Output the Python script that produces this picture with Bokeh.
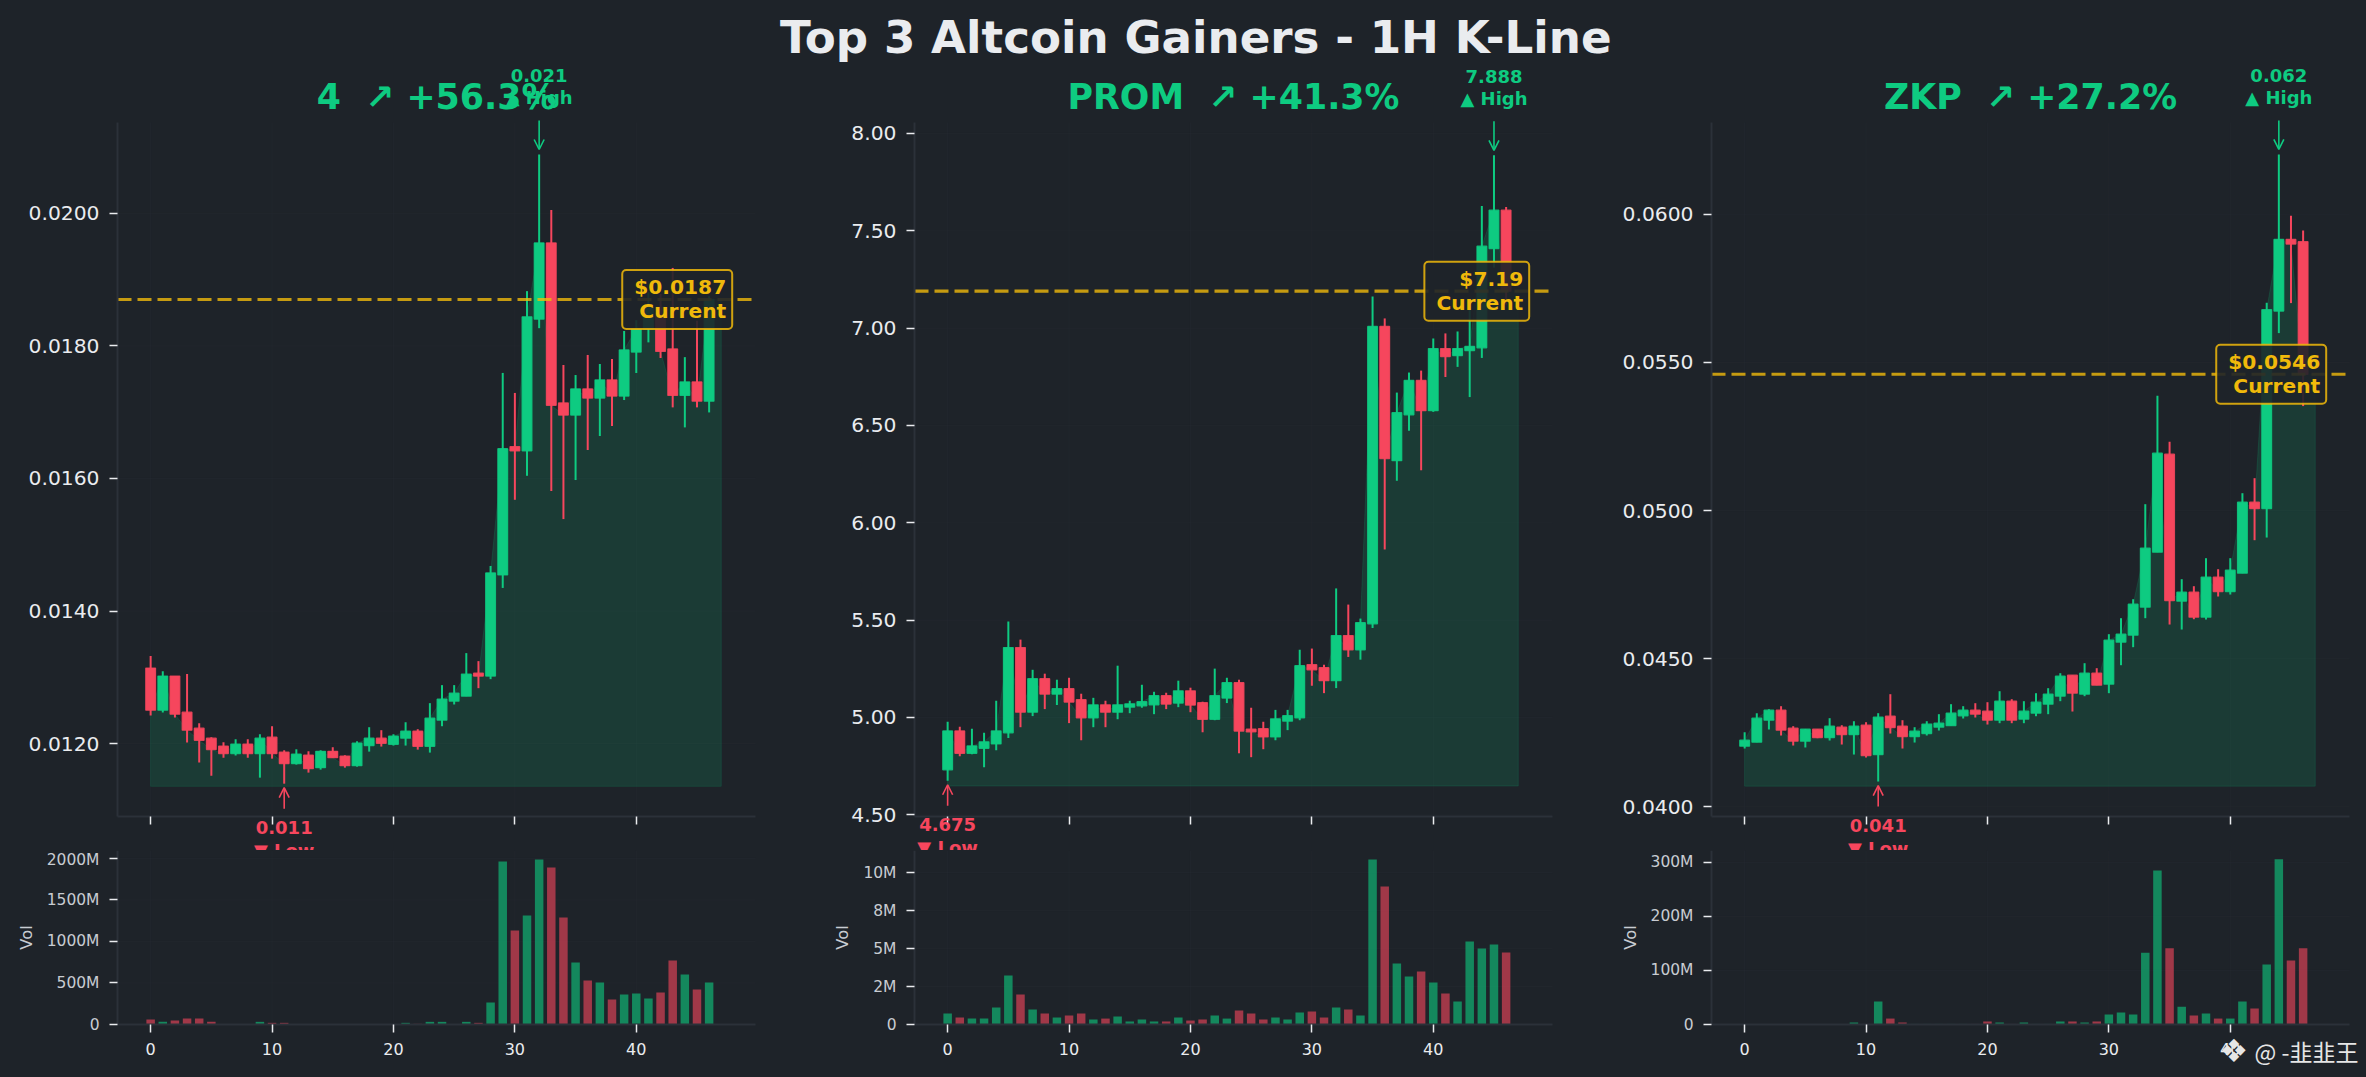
from bokeh.embed import file_html
from bokeh.resources import INLINE
from bokeh.layouts import row, column
from bokeh.models import (Range1d, Label, Arrow, OpenHead, FixedTicker, CustomJS)
from bokeh.plotting import figure

BG = "#1e2329"
GREEN = "#0ecb81"
RED = "#f6465d"
GOLD = "#f0b90b"
SPINE = "#2b3139"
TEXT = "#eaecef"
FONT = "DejaVu Sans"

main_title = "Top 3 Altcoin Gainers - 1H K-Line"
sub_titles = ["4 \u00a0↗ +56.3%", "PROM \u00a0↗ +41.3%", "ZKP \u00a0↗ +27.2%"]
high_labels = ["0.021", "7.888", "0.062"]
low_labels = ["0.011", "4.675", "0.041"]
current_labels = ["$0.0187", "$7.19", "$0.0546"]
current_values = [0.0187, 7.19, 0.0546]
area_floors = [0.011355, 4.648, 0.040693]

y_limits = [(0.0109, 0.02137), (4.4913, 8.0565), (0.03967, 0.0631)]
y_ticks = [[0.012, 0.014, 0.016, 0.018, 0.020],
           [4.5, 5.0, 5.5, 6.0, 6.5, 7.0, 7.5, 8.0],
           [0.040, 0.045, 0.050, 0.055, 0.060]]
y_tick_formats = ["{:.4f}", "{:.2f}", "{:.4f}"]
x_ticks = [0, 10, 20, 30, 40]

vol_limits = [2096, 11.45, 322]
vol_ticks = [[0, 500, 1000, 1500, 2000], [0, 2.5, 5, 7.5, 10], [0, 100, 200, 300]]
vol_tick_labels = [["0", "500M", "1000M", "1500M", "2000M"],
                   ["0", "2M", "5M", "8M", "10M"],
                   ["0", "100M", "200M", "300M"]]

open_4 = [.013139,.012504,.013018,.012474,.012232,.012081,.01196,.011849,.01199,.011849,.012096,.011869,.011698,.011824,.011637,.011884,.011809,.011667,.01197,.012081,.01199,.012081,.012186,.01196,.012353,.01264,.012715,.013063,.013018,.014544,.016479,.016418,.018403,.019552,.017138,.016957,.01735,.017214,.017485,.017244,.017908,.018256,.018581,.017953,.017253,.017455,.017166]
high_4 = [.01332,.013093,.013018,.013048,.012307,.012096,.01202,.012065,.012065,.012141,.012262,.011899,.011914,.011884,.011899,.011945,.011824,.012035,.012247,.012202,.012141,.012322,.012217,.01261,.012882,.012882,.013365,.013244,.01468,.017592,.01729,.018826,.020887,.02005,.017712,.01756,.017863,.017727,.017802,.018225,.018388,.018808,.018784,.019176,.01783,.01838,.01875]
low_4 = [.012423,.012469,.012393,.012015,.011713,.011516,.011788,.011819,.011788,.011486,.011773,.011395,.011683,.011562,.011607,.011788,.011637,.011652,.011879,.011955,.01197,.01197,.011909,.011864,.012262,.01259,.012715,.012836,.012972,.014348,.015678,.01604,.018267,.015809,.015387,.015976,.016429,.01664,.016791,.017183,.017591,.018053,.017817,.017072,.01677,.017072,.016996]
close_4 = [.012504,.013018,.012443,.012202,.01205,.011909,.011849,.01199,.011849,.012081,.011849,.011698,.011839,.011622,.011884,.011788,.011667,.012005,.012081,.012005,.012111,.012186,.01196,.012383,.01267,.012761,.013048,.013018,.014574,.016449,.016418,.018438,.019552,.017103,.016957,.01735,.017214,.017485,.017244,.017938,.018256,.018581,.017917,.017253,.017455,.017166,.0187]
vol_4 = [60,32,48,72,72,32,3,3,3,32,20,20,3,3,3,3,3,3,3,3,3,20,8,32,32,5,32,20,265,1964,1132,1313,1988,1892,1289,747,530,506,301,361,373,313,385,771,602,422,506]

open_prom = [4.731,4.931,4.816,4.842,4.864,4.921,5.359,5.027,5.199,5.12,5.148,5.091,4.998,5.065,5.027,5.053,5.06,5.065,5.112,5.074,5.137,5.076,4.991,5.1,5.179,4.94,4.942,4.9,4.981,4.998,5.271,5.256,5.189,5.421,5.348,5.481,7.009,6.319,6.555,6.731,6.576,6.895,6.859,6.885,6.899,7.409,7.606]
high_prom = [4.978,4.952,4.942,4.921,5.086,5.493,5.4,5.245,5.225,5.194,5.204,5.122,5.101,5.086,5.266,5.086,5.168,5.132,5.127,5.189,5.153,5.081,5.251,5.204,5.194,5.05,4.978,5.039,5.039,5.348,5.354,5.271,5.663,5.58,5.508,7.163,7.05,6.669,6.772,6.782,6.947,6.973,6.983,7.1,7.628,7.888,7.623]
low_prom = [4.675,4.801,4.811,4.744,4.832,4.894,4.95,5.007,5.043,5.064,4.971,4.883,4.95,4.95,4.991,5.022,5.05,5.017,5.043,5.053,5.027,4.924,4.986,5.074,4.816,4.796,4.837,4.883,4.935,4.986,5.163,5.125,5.151,5.311,5.297,5.46,5.863,6.216,6.473,6.27,6.57,6.749,6.801,6.646,6.847,7.311,7.12]
close_prom = [4.931,4.816,4.854,4.875,4.931,5.359,5.027,5.199,5.12,5.148,5.079,4.998,5.065,5.027,5.065,5.07,5.081,5.112,5.069,5.137,5.064,4.991,5.112,5.179,4.93,4.926,4.9,4.993,5.009,5.266,5.245,5.189,5.421,5.348,5.487,7.009,6.33,6.566,6.731,6.576,6.895,6.854,6.895,6.906,7.421,7.606,7.19]
vol_prom = [.72,.46,.39,.39,1.12,3.22,1.97,.99,.72,.46,.59,.72,.33,.39,.53,.2,.33,.2,.2,.46,.26,.33,.59,.39,.92,.72,.33,.46,.33,.79,.86,.46,1.12,.99,.59,10.86,9.08,4.01,3.16,3.49,2.76,2.04,1.51,5.46,5.0,5.26,4.74]

open_zkp = [.042044,.042178,.042921,.043259,.042651,.042212,.042617,.042336,.042685,.042437,.042752,.041762,.043056,.042719,.04237,.042471,.042685,.042741,.043068,.043259,.043225,.042921,.043563,.042955,.043158,.043462,.043732,.04444,.043799,.044508,.044137,.045555,.045791,.046736,.048593,.051902,.046939,.047243,.046399,.047749,.047265,.047884,.050281,.050068,.056733,.059153,.059074]
high_zkp = [.042516,.043158,.043293,.043394,.042719,.042617,.042617,.042989,.042752,.042887,.042854,.043158,.043799,.042921,.042685,.042887,.043124,.043462,.043394,.043495,.043529,.0439,.04363,.043563,.043833,.044002,.044508,.04444,.044846,.044677,.045825,.046365,.047006,.050214,.053875,.052322,.047682,.047445,.048391,.048019,.048391,.050585,.051092,.057014,.062022,.059952,.059456]
low_zkp = [.041965,.042178,.042606,.042404,.042066,.042,.042314,.042235,.0421,.041762,.041661,.040851,.042471,.041965,.042167,.042404,.042573,.042741,.042978,.043012,.042775,.04282,.04282,.04282,.043056,.043124,.043563,.043214,.043732,.044103,.043833,.044778,.045386,.046365,.048593,.046151,.045982,.046331,.04632,.047097,.047164,.047884,.048998,.049088,.05599,.057003,.053526]
close_zkp = [.042246,.042989,.043259,.042584,.042212,.042617,.042336,.042719,.042437,.042719,.041728,.043023,.042674,.04237,.04255,.042786,.04282,.043158,.043259,.043124,.042921,.043563,.042921,.043225,.043529,.043799,.044407,.043833,.044508,.044103,.045622,.045825,.046838,.048728,.051936,.046961,.047243,.046399,.047749,.047265,.047986,.050281,.050068,.056778,.059153,.058995,.0546]
vol_zkp = [.5,.5,.5,.5,.5,.5,.5,.5,.5,3.7,1,42.6,11,3.7,1,1,1,1,1,1,5.6,3.7,1,3.7,1,1,5.6,5.6,3.7,5.6,18.5,22,18.5,133,285,141,33,16.7,20.4,11,11,42.6,29.6,111,305.6,118.5,141]

series = [(open_4, high_4, low_4, close_4, vol_4),
          (open_prom, high_prom, low_prom, close_prom, vol_prom),
          (open_zkp, high_zkp, low_zkp, close_zkp, vol_zkp)]

X_MIN, X_MAX = -2.73, 49.82
FRAME_W, FRAME_H, VOL_H = 638, 694, 174
TOP, BOTTOM, VOL_BOTTOM = 122, 34, 53
columns_geo = [(117, 20), (139, 63), (96, 17)]   # left, right margin of each column
PX_X = (X_MAX - X_MIN) / FRAME_W


def make_panel(width, height, xr, yr, yl, x_font, y_font, y_color, yticks, overrides):
    """The plot frame fills the whole canvas; the axes sit at fixed places inside it,
    so texts and arrows around the inner area are not clipped away."""
    fig = figure(width=width, height=height, x_range=Range1d(*xr), y_range=Range1d(*yr),
                 min_border_left=0, min_border_right=0, min_border_top=0, min_border_bottom=0,
                 background_fill_color=None, border_fill_color=None, outline_line_color=None,
                 output_backend="svg", toolbar_location=None, tools="", styles={"background-color": BG})
    fig.grid.visible = False
    for ax in (fig.xaxis[0], fig.yaxis[0]):
        ax.axis_line_color = SPINE
        ax.axis_line_width = 2
        ax.major_tick_line_color = TEXT
        ax.major_tick_line_width = 1.5
        ax.major_tick_out = 8
        ax.major_tick_in = 0
        ax.minor_tick_line_color = None
        ax.major_label_text_font = FONT
        ax.major_label_standoff = 10
    xa, ya = fig.xaxis[0], fig.yaxis[0]
    xa.fixed_location = yl[0]
    xa.bounds = (X_MIN, X_MAX)
    xa.ticker = FixedTicker(ticks=x_ticks)
    ya.fixed_location = X_MIN
    ya.bounds = yl
    ya.ticker = FixedTicker(ticks=yticks)
    ya.major_label_overrides = overrides
    ya.major_label_text_font_size = y_font
    ya.major_label_text_color = y_color
    if x_font:
        xa.major_label_text_font_size = x_font
        xa.major_label_text_color = TEXT
    else:
        xa.major_label_text_font_size = "0px"
        xa.major_label_text_color = None
    fig.segment(x_ticks, yl[0], x_ticks, yl[1], line_color=SPINE, line_alpha=0.25, line_width=1, level="underlay")
    fig.segment(X_MIN, yticks, X_MAX, yticks, line_color=SPINE, line_alpha=0.25, line_width=1, level="underlay")
    return fig


plots = []
for k, (o, h, l, c, v) in enumerate(series):
    lb, rb = columns_geo[k]
    idx = list(range(len(c)))
    colors = [GREEN if c[i] >= o[i] else RED for i in idx]
    y0, y1 = y_limits[k]
    per_px = (y1 - y0) / FRAME_H
    xr = (X_MIN - lb * PX_X, X_MAX + rb * PX_X)

    p = make_panel(lb + FRAME_W + rb, TOP + FRAME_H + BOTTOM, xr,
                   (y0 - BOTTOM * per_px, y1 + TOP * per_px), (y0, y1), None, "20.3px", TEXT, y_ticks[k],
                   {t: y_tick_formats[k].format(t) for t in y_ticks[k]})

    area_x = idx + [len(c), len(c), 0]
    area_y = c + [c[-1], area_floors[k], area_floors[k]]
    p.patch(area_x, area_y, fill_color=GREEN, fill_alpha=0.15, line_color=GREEN, line_alpha=0.15, line_width=1)

    p.segment(idx, l, idx, h, line_color=colors, line_width=2)
    tops = [max(o[i], c[i]) for i in idx]
    bots = [min(o[i], c[i]) for i in idx]
    p.vbar(idx, 0.8, bots, tops, fill_color=colors, line_color=colors, line_width=1.3, line_alpha=0.85)

    p.line([X_MIN, X_MAX], [current_values[k], current_values[k]], line_color=GOLD, line_alpha=0.8,
           line_width=3.2, line_dash="14 6")

    ihi = h.index(max(h))
    ilo = l.index(min(l))
    p.add_layout(Arrow(end=OpenHead(size=10, line_color=GREEN, line_width=1.6),
                       x_start=ihi, y_start=h[ihi] + 34 * per_px, x_end=ihi, y_end=h[ihi] + 5 * per_px,
                       line_color=GREEN, line_width=1.6))
    p.add_layout(Arrow(end=OpenHead(size=10, line_color=RED, line_width=1.6),
                       x_start=ilo, y_start=l[ilo] - 25 * per_px, x_end=ilo, y_end=l[ilo] - 4 * per_px,
                       line_color=RED, line_width=1.6))
    for txt, yv, off, col in [(high_labels[k], h[ihi], 79, GREEN), ("▲ High", h[ihi], 57, GREEN),
                              (low_labels[k], l[ilo], -44, RED), ("▼ Low", l[ilo], -67, RED)]:
        p.add_layout(Label(x=ihi if col == GREEN else ilo, y=yv, y_offset=off, text=txt,
                           text_align="center", text_baseline="middle", text_color=col,
                           text_font=FONT, text_font_style="bold", text_font_size="18px"))

    p.add_layout(Label(x=(X_MIN + X_MAX) / 2, y=y1 + 26 * per_px, text=sub_titles[k],
                       text_align="center", text_baseline="alphabetic", text_color=GREEN,
                       text_font=FONT, text_font_style="bold", text_font_size="34.8px"))

    p.add_layout(Label(x=47.9, y=current_values[k], text=current_labels[k] + "\nCurrent",
                       text_align="right", text_baseline="middle", text_color=GOLD,
                       text_font=FONT, text_font_style="bold", text_font_size="20.2px", text_line_height=1.0,
                       background_fill_color=BG, background_fill_alpha=0.9,
                       border_line_color=GOLD, border_line_alpha=0.85, border_line_width=2,
                       padding=(12, 6, 5, 6), border_radius=4))

    if k == 1:
        p.add_layout(Label(x=20.44, y=8.494, text=main_title, text_align="center", text_baseline="middle",
                           text_color=TEXT, text_font=FONT, text_font_style="bold", text_font_size="45.2px"))

    vmax = vol_limits[k]
    vol_px = vmax / VOL_H
    q = make_panel(lb + FRAME_W + rb, VOL_H + VOL_BOTTOM, xr, (-VOL_BOTTOM * vol_px, vmax), (0, vmax),
                   "16px", "15.5px", "#c8ccd2", vol_ticks[k], dict(zip(vol_ticks[k], vol_tick_labels[k])))
    q.yaxis.axis_label = "Vol"
    q.yaxis.axis_label_text_font = FONT
    q.yaxis.axis_label_text_font_style = "normal"
    q.yaxis.axis_label_text_font_size = "16.3px"
    q.yaxis.axis_label_text_color = "#c8ccd2"
    q.yaxis.axis_label_standoff = 8
    q.vbar(idx, 0.7, 0, v, fill_color=colors, fill_alpha=0.6, line_color=None)

    if k == 2:
        q.add_layout(Label(x=40.3, y=-26 * vol_px, text="❖", text_align="center", text_baseline="middle",
                           text_color="#e6e6e6", text_font=FONT, text_font_size="32px"))
        q.add_layout(Label(x=42, y=-26 * vol_px, text="@ -韭韭王", text_align="left", text_baseline="middle",
                           text_color="#e6e6e6", text_font="Noto Sans CJK SC", text_font_size="23px"))
    plots.append(column(p, q, spacing=0))

root = row(*plots, spacing=0)
plots[0].children[0].js_on_event("document_ready", CustomJS(code=(
    "document.body.style.margin='0';document.body.style.background='%s';document.documentElement.style.background='%s';" % (BG, BG))))

open("out.html", "w").write(file_html(root, INLINE))
